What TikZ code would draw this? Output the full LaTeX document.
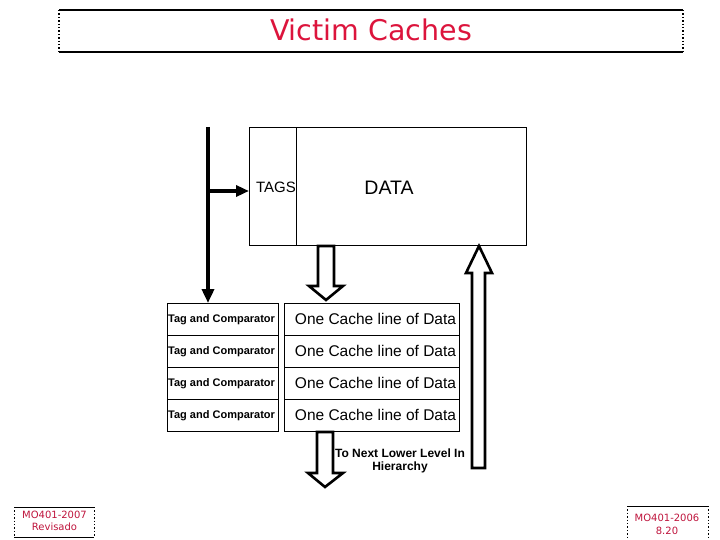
\documentclass[tikz,border=0pt]{standalone}
\usepackage{fontspec}
\setmainfont{Liberation Sans}
\newfontfamily\titlefont{DejaVu Sans}
\usetikzlibrary{arrows.meta,calc}
\definecolor{titlered}{RGB}{220,20,60}
\definecolor{footred}{RGB}{190,20,60}
\tikzset{
  box/.style={draw=black, line width=0.9pt, inner sep=0pt, anchor=north west},
  tagbox/.style={box, minimum width=111pt, minimum height=32pt},
  databox/.style={box, minimum width=175pt, minimum height=32pt},
  tagtext/.style={font=\fontsize{11}{12}\selectfont\bfseries, anchor=west, inner sep=0pt},
  datatext/.style={font=\fontsize{15.5}{18}\selectfont, inner sep=0pt},
  busline/.style={line width=3.8pt, -{Triangle[length=14pt,width=12pt]}},
  hollow/.style={draw=black, line width=2.6pt, fill=white, line join=miter},
  solidedge/.style={line width=1.4pt},
  dotedge/.style={line width=1.4pt, dotted},
  foot/.style={text=footred, font=\titlefont\fontsize{10}{12.5}\selectfont, align=center, inner sep=0pt}
}
\begin{document}
\begin{tikzpicture}[x=1pt,y=-1pt]
\useasboundingbox (0,0) rectangle (720,540);
% title box
\draw[solidedge] (59,10) -- (683,10);
\draw[solidedge] (59,52) -- (683,52);
\draw[dotedge] (59,10) -- (59,52);
\draw[dotedge] (683,10) -- (683,52);
\node[text=titlered, font=\titlefont\fontsize{28.5}{32}\selectfont, inner sep=0pt] (title) at (371,30) {Victim Caches};
% cache
\node[box, minimum width=277pt, minimum height=118pt] (cache) at (249,127) {};
\node[box, minimum width=47pt, minimum height=118pt] (tags) at (249,127) {};
\node[font=\fontsize{15}{18}\selectfont, inner sep=0pt] (tagslbl) at (276,187) {TAGS};
\node[font=\fontsize{19.5}{22}\selectfont, inner sep=0pt] (datalbl) at (389,188) {DATA};
% rows
\foreach \i/\y in {1/303,2/335,3/367,4/399}{
  \node[tagbox] (tag\i) at (167,\y) {};
  \node[tagtext] (tagt\i) at (168,\y+17) {Tag and Comparator};
  \node[databox] (line\i) at (284,\y) {};
  \node[datatext] (linet\i) at (375.5,\y+16) {One Cache line of Data};
}
% bus
\coordinate (busTop) at (208,127);
\coordinate (busBranch) at (208,191);
\draw[busline] (busTop) -- (busTop |- tag1.north);
\draw[line width=3.8pt, -{Triangle[length=13pt,width=11pt]}] (busBranch) -- (busBranch -| tags.west);
% hollow arrows
\draw[hollow] (318,246) -- (334,246) -- (334,286) -- (343,286) -- (326,300) -- (309,286) -- (318,286) -- cycle;
\draw[hollow] (479,246) -- (492,273) -- (485,273) -- (485,468) -- (472,468) -- (472,273) -- (466,273) -- cycle;
\draw[hollow] (317,432) -- (333,432) -- (333,473) -- (343,473) -- (325,487) -- (308,473) -- (317,473) -- cycle;
\node[font=\fontsize{12}{13}\selectfont\bfseries, align=center, inner sep=0pt] (next) at (400,461) {To Next Lower Level In\\Hierarchy};
% footers
\draw[solidedge, line width=1pt] (14,507) -- (94,507);
\draw[solidedge, line width=1pt] (14,537) -- (94,537);
\draw[dotedge, line width=1pt] (14,507) -- (14,537);
\draw[dotedge, line width=1pt] (94,507) -- (94,537);
\node[foot] (footl) at (54.5,521) {MO401-2007\\Revisado};
\draw[solidedge, line width=1pt] (627,506) -- (708,506);
\draw[dotedge, line width=1pt] (627,506) -- (627,542);
\draw[dotedge, line width=1pt] (708,506) -- (708,542);
\node[foot] (footr) at (667,524.5) {MO401-2006\\8.20};
\end{tikzpicture}
\end{document}
